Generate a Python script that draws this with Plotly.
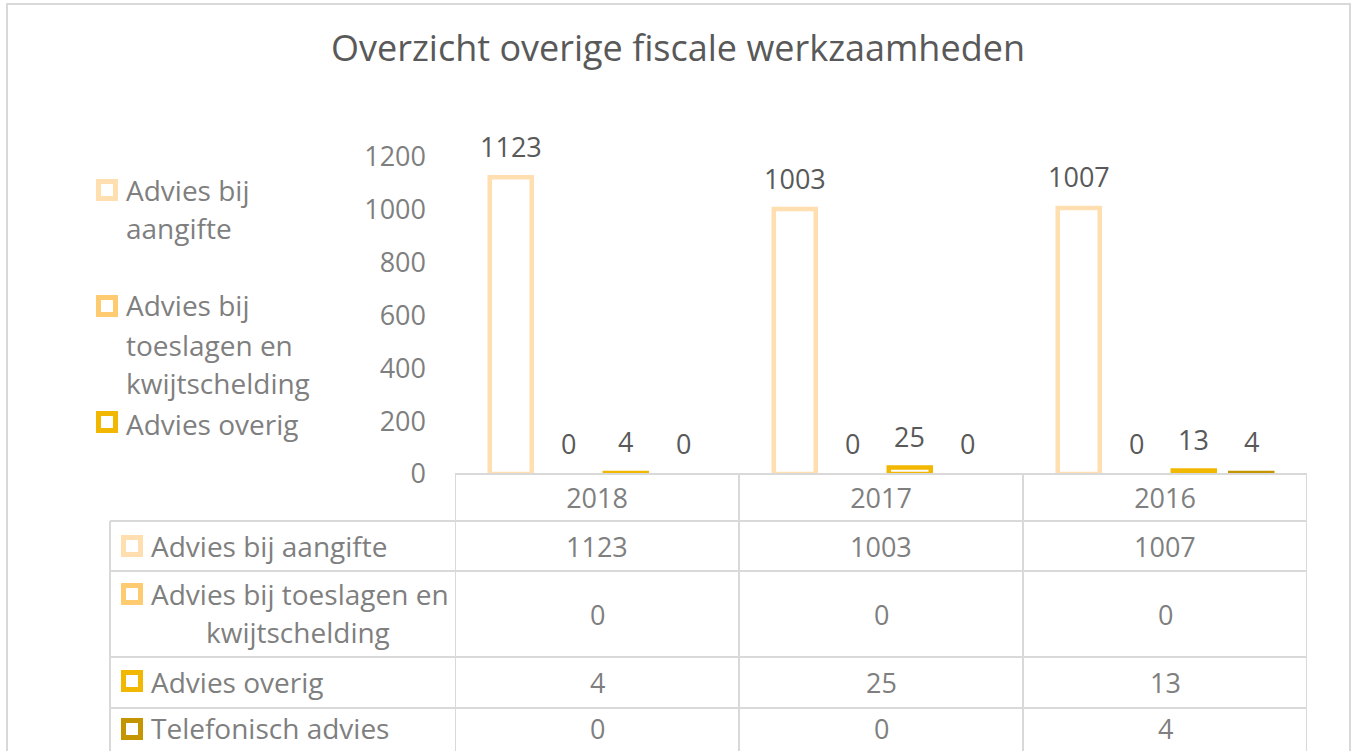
import plotly.graph_objects as go

# ---------------- data ----------------
years = ["2018", "2017", "2016"]
series_names = ["Advies bij aangifte",
                "Advies bij toeslagen en kwijtschelding",
                "Advies overig",
                "Telefonisch advies"]
aangifte = [1123, 1003, 1007]
toeslagen = [0, 0, 0]
overig = [4, 25, 13]
telefonisch = [0, 0, 4]
y_ticks = [0, 200, 400, 600, 800, 1000, 1200]
title_text = "Overzicht overige fiscale werkzaamheden"

# ---------------- style ----------------
series_values = [aangifte, toeslagen, overig, telefonisch]
colors = ["#FFDFAF", "#FFCB70", "#F2B700", "#C49500"]
FONT = "Open Sans"
DARK = "#595959"
GREY = "#7F7F7F"
LINE = "#D9D9D9"
NUM = 27
TXT = 28
W, H = 1354, 751
L, R, T, B = 455, 1307, 157, 474
BARGAP = 0.19


def px(x):
    return (x - L) / (R - L)


def py(y):
    return (B - y) / (B - T)


fig = go.Figure()
for name, vals, c in zip(series_names, series_values, colors):
    fig.add_trace(go.Bar(
        x=years, y=[v if v else None for v in vals], name=name,
        showlegend=False,
        marker=dict(color="white", line=dict(color=c, width=4.5)),
    ))

annotations = []
shapes = []

# data labels above bars
slot = (1 - BARGAP) / len(series_values)
for k, vals in enumerate(series_values):
    for i, v in enumerate(vals):
        annotations.append(dict(
            x=i + (k - (len(series_values) - 1) / 2) * slot, y=v,
            xref="x", yref="y", text=str(v), showarrow=False,
            yanchor="middle", yshift=31,
            font=dict(family=FONT, size=NUM, color=DARK)))

# outer chart border
shapes.append(dict(type="rect", xref="paper", yref="paper",
                   x0=px(7), x1=px(1350), y0=py(770), y1=py(4),
                   line=dict(color=LINE, width=2), fillcolor="rgba(0,0,0,0)",
                   layer="below"))

# data table grid
row_lines = [521, 571, 657, 708]
shapes.append(dict(type="line", xref="paper", yref="paper",
                   x0=px(L), x1=px(R), y0=py(B), y1=py(B),
                   line=dict(color=LINE, width=2)))
for ry in row_lines:
    shapes.append(dict(type="line", xref="paper", yref="paper",
                       x0=px(110), x1=px(R), y0=py(ry), y1=py(ry),
                       line=dict(color=LINE, width=2)))
for vx in [-0.5, 0.5, 1.5, 2.5]:
    shapes.append(dict(type="line", xref="x", yref="paper",
                       x0=vx, x1=vx, y0=py(B), y1=py(760),
                       line=dict(color=LINE, width=2)))
shapes.append(dict(type="line", xref="paper", yref="paper",
                   x0=px(110), x1=px(110), y0=py(521), y1=py(760),
                   line=dict(color=LINE, width=2)))


def key(x0, y0, c, size=22):
    shapes.append(dict(type="rect", xref="paper", yref="paper",
                       x0=px(x0 + 2.5), x1=px(x0 + size - 2.5),
                       y0=py(y0 + size - 2.5), y1=py(y0 + 2.5),
                       line=dict(color=c, width=5), fillcolor="white"))


def txt(x, y, s, color=GREY, anchor="left", size=TXT):
    annotations.append(dict(x=px(x), y=py(y), xref="paper", yref="paper",
                            text=s, showarrow=False, xanchor=anchor,
                            yanchor="middle",
                            font=dict(family=FONT, size=size, color=color)))


# table values
row_centers = [546, 614, 682, 728]
for vals, rc in zip(series_values, row_centers):
    for i, v in enumerate(vals):
        annotations.append(dict(x=i, y=py(rc), xref="x", yref="paper",
                                text=str(v), showarrow=False,
                                yanchor="middle",
                                font=dict(family=FONT, size=NUM, color=GREY)))

# table row labels with keys
key(121, 535, colors[0]); txt(149, 546, series_names[0])
key(121, 583, colors[1]); txt(149, 594, "Advies bij toeslagen en")
txt(298, 632, "kwijtschelding", anchor="center")
key(121, 670, colors[2]); txt(149, 682, series_names[2])
key(121, 718, colors[3]); txt(149, 728, series_names[3])

# left legend (last item clipped in the original)
key(96, 179, colors[0]); txt(124, 190, "Advies bij"); txt(124, 228, "aangifte")
key(96, 295, colors[1]); txt(124, 305, "Advies bij"); txt(124, 345, "toeslagen en")
txt(124, 383, "kwijtschelding")
key(96, 411, colors[2]); txt(124, 424, "Advies overig")

fig.update_layout(
    width=W, height=H,
    margin=dict(l=L, r=W - R, t=T, b=H - B, pad=0),
    paper_bgcolor="white", plot_bgcolor="white",
    barmode="group", bargap=BARGAP, bargroupgap=0.27,
    title=dict(text=title_text, x=678 / W, xanchor="center",
               y=1 - 48 / H, yanchor="middle",
               font=dict(family=FONT, size=36, color=DARK)),
    xaxis=dict(type="category", range=[-0.5, 2.5], showgrid=False,
               zeroline=False, showline=False, ticks="",
               ticklabelstandoff=6,
               tickfont=dict(family=FONT, size=NUM, color=GREY)),
    yaxis=dict(range=[0, 1200], tickvals=y_ticks, showgrid=False,
               zeroline=False, showline=False, ticks="",
               ticklabelstandoff=28,
               tickfont=dict(family=FONT, size=NUM, color=GREY)),
    shapes=shapes, annotations=annotations,
)

fig.write_html("out.html", config={"displayModeBar": False},
               post_script="document.body.style.margin='0';")
